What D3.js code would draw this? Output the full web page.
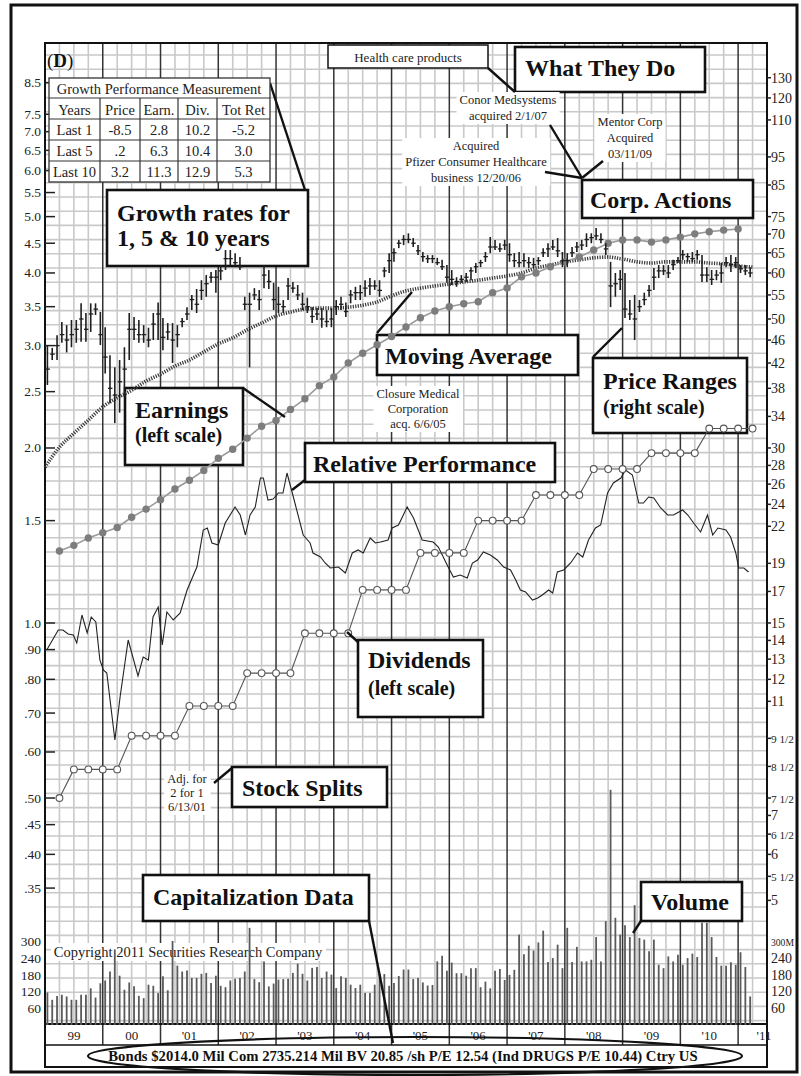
<!DOCTYPE html>
<html>
<head>
<meta charset="utf-8">
<script src="https://cdn.jsdelivr.net/npm/d3@7"></script>
<style>
    body { margin: 0; background: #fff; }
    svg { display: block; font-family: "Liberation Serif", "Times New Roman", serif; }
</style>
</head>
<body>
<div id="container"></div>
<script>
// monthly price ranges Jan 1999 .. Mar 2011 (right scale, $)
const priceHigh = [
    45.1, 44.6, 46.9, 49.4, 48.8, 49.8, 49.8, 53.2, 51.2, 53.2, 53.2, 51.4,
    48.4, 43.3, 41.3, 42.5, 44.7, 51.2, 50.4, 49.8, 48.8, 48.3, 51.2, 53.4,
    50.2, 49.2, 49.2, 48.8, 50.2, 52.4, 55.0, 56.3, 58.3, 59.5, 60.2, 60.7,
    61.9, 65.7, 65.7, 64.9, 63.9, 54.6, 55.5, 56.5, 56.1, 61.9, 60.7, 57.7,
    56.8, 53.9, 58.8, 57.9, 57.2, 55.5, 54.4, 52.4, 52.2, 52.2, 51.8, 52.2,
    53.9, 54.6, 53.4, 56.1, 56.8, 57.2, 58.3, 58.8, 58.3, 58.3, 61.4, 64.9,
    66.2, 68.4, 69.7, 70.2, 68.9, 67.0, 65.2, 64.4, 64.4, 63.7, 63.2, 61.9,
    60.7, 59.0, 59.5, 60.0, 61.4, 62.4, 63.2, 65.2, 69.2, 68.4, 67.5, 68.4,
    67.5, 64.9, 65.2, 64.9, 63.9, 63.7, 63.9, 66.2, 67.5, 68.4, 68.9, 65.2,
    64.9, 66.5, 67.8, 68.4, 70.2, 70.2, 71.7, 70.2, 67.5, 62.7, 60.0, 60.7,
    60.0, 53.9, 55.0, 53.9, 55.5, 57.2, 61.2, 61.9, 61.9, 61.9, 63.2, 63.9,
    65.7, 64.9, 65.2, 65.7, 64.4, 61.4, 60.7, 60.7, 62.4, 63.9, 64.4, 63.9,
    61.9, 61.9, 61.4
]
const priceLow = [
    38.5, 42.5, 42.5, 45.5, 43.8, 44.7, 45.5, 45.7, 45.7, 47.5, 50.8, 45.1,
    40.3, 35.8, 33.1, 34.5, 36.7, 42.5, 46.0, 45.5, 45.5, 44.7, 46.0, 46.0,
    44.2, 46.0, 42.0, 44.7, 48.4, 49.8, 51.8, 51.2, 53.9, 54.6, 57.7, 55.5,
    58.3, 60.7, 61.9, 61.4, 60.7, 51.8, 41.3, 53.9, 51.8, 56.5, 56.3, 51.8,
    51.2, 51.2, 53.9, 55.5, 53.9, 51.8, 51.2, 49.2, 49.8, 48.3, 48.4, 48.4,
    50.8, 51.8, 50.4, 53.2, 53.9, 53.9, 54.6, 55.0, 56.1, 54.6, 59.0, 60.0,
    62.7, 66.2, 67.0, 67.5, 66.5, 64.4, 62.7, 62.4, 62.4, 61.9, 60.7, 57.7,
    57.2, 56.8, 57.7, 57.9, 58.3, 60.0, 61.4, 62.7, 64.9, 65.7, 65.2, 65.7,
    62.7, 61.4, 61.4, 61.4, 61.2, 61.2, 61.9, 63.9, 63.9, 65.7, 63.9, 61.4,
    61.4, 63.9, 65.2, 65.7, 66.5, 67.5, 68.4, 67.5, 64.4, 52.4, 54.6, 56.1,
    50.2, 49.8, 46.0, 51.4, 52.8, 54.6, 56.1, 58.8, 59.5, 58.8, 60.7, 62.4,
    63.2, 62.7, 62.7, 63.2, 57.9, 57.9, 57.2, 58.3, 57.7, 61.4, 60.2, 61.2,
    60.0, 59.5, 59.0
]
const priceClose = [
    41, 43.5, 45, 47, 46, 47, 48, 50, 48, 51, 52, 47,
    43, 38, 37, 39, 41, 48, 48, 47, 47, 46, 49, 51,
    46.5, 47.5, 46, 47, 49.5, 51, 54, 53, 56, 57.5, 59, 59,
    60.5, 63.5, 63.5, 62.5, 61.5, 53, 53, 55, 54, 59.5, 58, 54,
    53, 52.5, 57, 56.5, 55, 53, 52.5, 50.5, 51, 50, 49.5, 50,
    52.5, 53, 51.5, 55, 55.5, 55.5, 56.5, 57, 57, 56, 60.5, 63,
    65, 67.5, 68.5, 68.5, 67.5, 65.5, 64, 63.5, 63.5, 62.5, 61.5, 59,
    58.5, 58, 58.5, 59, 60.5, 61.5, 62.5, 64, 66.5, 66.5, 66, 67,
    64.5, 63, 62.5, 63, 62.5, 62, 63, 65, 66, 66.5, 65.5, 63,
    63, 65, 66.5, 67, 68.5, 69, 69.5, 68.5, 66, 57, 57.5, 58.5,
    52, 51, 50, 52.5, 54, 56, 59, 60.5, 60.5, 60, 62, 63,
    64.5, 64, 63.5, 64.5, 59.5, 59.5, 58.5, 59.5, 60, 62.5, 62, 62.5,
    61, 60.5, 60
]
// monthly volume, millions of shares
const volume = [
    116, 90, 104, 108, 102, 90, 90, 108, 108, 131, 98, 149,
    159, 191, 270, 176, 126, 152, 138, 104, 96, 144, 140, 114,
    174, 124, 300, 212, 191, 195, 168, 168, 183, 186, 150, 176,
    140, 135, 159, 165, 168, 191, 347, 164, 153, 227, 138, 148,
    162, 164, 165, 186, 219, 183, 159, 204, 207, 168, 191, 180,
    132, 174, 168, 144, 132, 144, 114, 114, 144, 183, 182, 140,
    150, 175, 198, 198, 164, 168, 152, 141, 143, 227, 247, 194,
    223, 185, 185, 176, 203, 203, 135, 155, 131, 194, 200, 161,
    179, 197, 323, 253, 283, 266, 295, 337, 225, 239, 287, 203,
    347, 225, 279, 227, 227, 233, 314, 227, 371, 840, 383, 323,
    356, 314, 428, 311, 305, 263, 305, 215, 203, 245, 227, 251,
    215, 239, 255, 243, 365, 365, 314, 243, 212, 212, 224, 215,
    260, 207, 102
]
// quarterly from 1999 Q2 (left scale)
const earnings = [
    1.33, 1.36, 1.40, 1.43, 1.46, 1.52, 1.57, 1.63,
    1.70, 1.76, 1.83, 1.92, 1.99, 2.08, 2.18, 2.23,
    2.33, 2.43, 2.56, 2.65, 2.80, 2.91, 3.01, 3.11,
    3.23, 3.35, 3.44, 3.50, 3.54, 3.57, 3.70, 3.77,
    3.94, 4.00, 4.10, 4.18, 4.26, 4.38, 4.50, 4.56,
    4.56, 4.52, 4.56, 4.61, 4.67, 4.71, 4.74, 4.76
]
const dividends = [
    0.50,
    0.56, 0.56, 0.56, 0.56, 0.64, 0.64, 0.64, 0.64,
    0.72, 0.72, 0.72, 0.72, 0.82, 0.82, 0.82, 0.82,
    0.96, 0.96, 0.96, 0.96, 1.14, 1.14, 1.14, 1.14,
    1.32, 1.32, 1.32, 1.32, 1.50, 1.50, 1.50, 1.50,
    1.66, 1.66, 1.66, 1.66, 1.84, 1.84, 1.84, 1.84,
    1.96, 1.96, 1.96, 1.96, 2.16, 2.16, 2.16, 2.16
]
// quarterly from Jan 1999 (right scale, $)
const movingAvg = [
    27.8, 30.1, 31.8, 33.5, 35.3, 36.6, 37.7, 39.1, 40.2, 41.5,
    42.5, 43.9, 45.3, 46.4, 47.9, 49.2, 50.6, 51.4, 52.0, 52.2,
    52.2, 52.4, 52.8, 53.5, 54.8, 55.9, 56.5, 57.0, 57.4, 57.9,
    58.3, 58.8, 59.3, 60.0, 61.2, 61.9, 62.7, 63.2, 63.7, 63.9,
    63.4, 62.7, 62.4, 62.7, 62.7, 62.7, 62.4, 62.2, 61.7, 61.4
]
// relative performance index
const relDates = [
    1999.03, 1999.23, 1999.31, 1999.40, 1999.49, 1999.55, 1999.64, 1999.73, 1999.80, 1999.88,
    1999.95, 2000.01, 2000.07, 2000.21, 2000.30, 2000.44, 2000.61, 2000.70, 2000.79, 2000.87,
    2000.96, 2001.03, 2001.11, 2001.22, 2001.34, 2001.46, 2001.63, 2001.74, 2001.81, 2001.89,
    2002.00, 2002.12, 2002.29, 2002.38, 2002.47, 2002.55, 2002.64, 2002.73, 2002.78, 2002.86,
    2002.95, 2003.04, 2003.12, 2003.19, 2003.30, 2003.47, 2003.59, 2003.64, 2003.77, 2003.85,
    2003.94, 2004.08, 2004.20, 2004.32, 2004.42, 2004.51, 2004.63, 2004.72, 2004.81, 2004.94,
    2005.01, 2005.12, 2005.27, 2005.38, 2005.53, 2005.72, 2005.81, 2005.98, 2006.07, 2006.19,
    2006.31, 2006.40, 2006.49, 2006.59, 2006.71, 2006.83, 2006.94, 2007.06, 2007.15, 2007.23,
    2007.32, 2007.44, 2007.53, 2007.61, 2007.72, 2007.79, 2007.87, 2007.98, 2008.10, 2008.22,
    2008.31, 2008.41, 2008.53, 2008.62, 2008.74, 2008.84, 2008.97, 2009.05, 2009.17, 2009.28,
    2009.36, 2009.45, 2009.54, 2009.66, 2009.78, 2009.88, 2010.04, 2010.13, 2010.23, 2010.35,
    2010.47, 2010.56, 2010.65, 2010.79, 2010.87, 2010.96, 2011.01, 2011.10, 2011.18
]
const relValues = [
    150, 170, 170, 166, 165, 157, 185, 167, 183, 178,
    140, 130, 127, 60, 103, 160, 124, 143, 140, 183,
    193, 155, 188, 180, 187, 210, 233, 270, 272, 257,
    255, 277, 293, 285, 265, 285, 293, 322, 322, 300,
    301, 307, 307, 327, 303, 265, 257, 247, 243, 237,
    232, 233, 227, 247, 250, 247, 262, 257, 258, 260,
    272, 275, 293, 282, 260, 258, 253, 233, 223, 225,
    222, 237, 240, 248, 245, 240, 233, 230, 220, 210,
    208, 200, 202, 205, 210, 207, 228, 230, 237, 247,
    243, 260, 272, 275, 307, 317, 322, 330, 325, 297,
    297, 303, 302, 292, 285, 285, 290, 285, 277, 268,
    285, 265, 272, 270, 263, 247, 232, 232, 228
]

const yearLabels = ["99", "00", "'01", "'02", "'03", "'04", "'05", "'06", "'07", "'08", "'09", "'10", "'11"]
const leftTicks = [8.5, 7.5, 7, 6.5, 6, 5.5, 5, 4.5, 4, 3.5, 3, 2.5, 2, 1.5, 1, 0.9, 0.8, 0.7, 0.6, 0.5, 0.45, 0.4, 0.35]
const leftTickLabels = ["8.5", "7.5", "7.0", "6.5", "6.0", "5.5", "5.0", "4.5", "4.0", "3.5", "3.0", "2.5", "2.0", "1.5",
    "1.0", ".90", ".80", ".70", ".60", ".50", ".45", ".40", ".35"]
const rightTicks = [130, 120, 110, 95, 85, 75, 70, 65, 60, 55, 50, 46, 42, 38, 34, 30, 28, 26, 24, 22, 19, 17, 15,
    14, 13, 12, 11, 9.5, 8.5, 7.5, 7, 6.5, 6, 5.5, 5]
const rightTickLabels = ["130", "120", "110", "95", "85", "75", "70", "65", "60", "55", "50", "46", "42", "38", "34",
    "30", "28", "26", "24", "22", "19", "17", "15", "14", "13", "12", "11", "9 1/2", "8 1/2", "7 1/2", "7", "6 1/2",
    "6", "5 1/2", "5"]
const volTicks = [60, 120, 180, 240, 300]
const volLeftLabels = ["60", "120", "180", "240", "300"]
const volRightLabels = ["60", "120", "180", "240", "300M"]

const growthHeader = ["Years", "Price", "Earn.", "Div.", "Tot Ret"]
const growthYears = ["Last 1", "Last 5", "Last 10"]
const growthPrice = ["-8.5", ".2", "3.2"]
const growthEarn = ["2.8", "6.3", "11.3"]
const growthDiv = ["10.2", "10.4", "12.9"]
const growthTotRet = ["-5.2", "3.0", "5.3"]

const capText = "Bonds  $2014.0 Mil Com 2735.214 Mil BV 20.85 /sh  P/E 12.54 (Ind DRUGS P/E 10.44) Ctry US"

const w = 801
const h = 1076
const pLeft = 45, pRight = 767, pTop = 43, pBottom = 1024

const svg = d3.select("#container")
    .append("svg")
    .attr("width", w)
    .attr("height", h)
    .style("background-color", "white")

const x = d3.scaleLinear()
    .domain([1999, 2011.5])
    .range([pLeft, pRight])
// one log grid: left scale (earnings/dividends), right scale = left x 15 (price)
const pxPerLn = 252.5
const yOne = 623
const yL = d3.scaleLog()
    .domain([Math.exp((yOne - pBottom) / pxPerLn), Math.exp((yOne - pTop) / pxPerLn)])
    .range([pBottom, pTop])
const yR = yL.copy().domain(yL.domain().map((v) => v * 15))
const yV = d3.scaleLinear().domain([0, 300]).range([1025, 941])
const yRel = d3.scaleLinear().domain([0, 400]).range([800, 400])

const monthX = (i) => x(1999 + (i + 0.5) / 12)

// grid
const grid = svg.append("g")
d3.range(-41, 30).map((k) => yL(1) + k * 14.2)
    .filter((gy) => gy > pTop + 1 && gy < pBottom - 1)
    .forEach((gy) => {
        grid.append("line")
            .attr("x1", pLeft).attr("x2", pRight)
            .attr("y1", gy).attr("y2", gy)
            .attr("stroke", "#c9c9c9").attr("stroke-width", 1.6)
    })
d3.range(1999.25, 2011.5, 0.25)
    .filter((t) => Math.abs(t - Math.round(t)) > 0.01)
    .forEach((t) => {
        grid.append("line")
            .attr("x1", x(t)).attr("x2", x(t))
            .attr("y1", pTop).attr("y2", pBottom)
            .attr("stroke", "#c9c9c9").attr("stroke-width", 1.6)
    })
d3.range(2000, 2012).forEach((t) => {
    grid.append("line")
        .attr("x1", x(t)).attr("x2", x(t))
        .attr("y1", pTop).attr("y2", 1045)
        .attr("stroke", "#333").attr("stroke-width", 1.5)
})

// frame lines of the plot
const frame = svg.append("g").attr("stroke", "#111").attr("fill", "none")
frame.append("rect").attr("x", pLeft).attr("y", pTop).attr("width", pRight - pLeft).attr("height", 1067 - pTop)
    .attr("stroke-width", 2)
frame.append("line").attr("x1", pLeft).attr("x2", pRight).attr("y1", pBottom).attr("y2", pBottom).attr("stroke-width", 2)
frame.append("line").attr("x1", pLeft).attr("x2", pRight).attr("y1", 1045).attr("y2", 1045).attr("stroke-width", 1.5)

// axis labels
const axes = svg.append("g").style("font-size", "13.5px").attr("fill", "#222")
function fitRight(t) {
    // shrink labels that would run into the outer frame
    const len = t.node().getComputedTextLength()
    if (len > 23) t.style("font-size", (14 * 23 / len).toFixed(1) + "px")
}
leftTicks.forEach((v, i) => {
    axes.append("line").attr("x1", pLeft).attr("x2", pLeft + 10).attr("y1", yL(v)).attr("y2", yL(v))
        .attr("stroke", "#222").attr("stroke-width", 1.5)
    axes.append("text").attr("x", 41).attr("y", yL(v) + 4.5).attr("text-anchor", "end").text(leftTickLabels[i])
})
rightTicks.forEach((v, i) => {
    axes.append("line").attr("x1", pRight).attr("x2", pRight + 4).attr("y1", yR(v)).attr("y2", yR(v))
        .attr("stroke", "#222").attr("stroke-width", 1.5)
    fitRight(axes.append("text").attr("x", 771).attr("y", yR(v) + 5).style("font-size", "14px").text(rightTickLabels[i]))
})
volTicks.forEach((v, i) => {
    axes.append("text").attr("x", 41).attr("y", yV(v) + 5).attr("text-anchor", "end").text(volLeftLabels[i])
    fitRight(axes.append("text").attr("x", 771).attr("y", yV(v) + 5).style("font-size", "14px").text(volRightLabels[i]))
})
yearLabels.forEach((lab, i) => {
    axes.append("text")
        .attr("x", x(1999 + i + 0.5) + (i === 12 ? -3 : 0))
        .attr("y", 1040)
        .attr("text-anchor", "middle")
        .style("font-size", "13px")
        .text(lab)
})

// annotation boxes (white, drawn under the data)
const boxes = svg.append("g")
function box(bx, by, bw, bh, sw = 2.6) {
    return boxes.append("rect")
        .attr("x", bx).attr("y", by).attr("width", bw).attr("height", bh)
        .attr("fill", "white").attr("stroke", "#111").attr("stroke-width", sw)
}
box(107, 190, 201, 76)
box(515, 47, 190, 45)
box(582, 180, 171, 38)
box(377, 335, 201, 40)
box(593, 358, 154, 75)
box(125, 388, 118, 77)
box(305, 443, 250, 39)
box(358, 640, 125, 77)
box(232, 767, 155, 40)
box(143, 875, 226, 46)
box(641, 882, 101, 39)
box(328, 45, 160, 23, 1.5)

// white backed small notes
const notes = svg.append("g").style("font-size", "12.5px").attr("fill", "#222")
function note(cx, baseline, lines, step, size) {
    const g = notes.append("g")
    if (size) g.style("font-size", size + "px")
    lines.forEach((s, i) => g.append("text")
        .attr("x", cx).attr("y", baseline + i * step)
        .attr("text-anchor", "middle").text(s))
    const bb = g.node().getBBox()
    g.insert("rect", "text")
        .attr("x", bb.x - 3).attr("y", bb.y - 1).attr("width", bb.width + 6).attr("height", bb.height + 2)
        .attr("fill", "white")
}
note(508, 104, ["Conor Medsystems", "acquired 2/1/07"], 16)
note(630, 126, ["Mentor Corp", "Acquired", "03/11/09"], 16)
note(476, 150, ["Acquired", "Pfizer Consumer Healthcare", "business 12/20/06"], 16)
note(418, 398, ["Closure Medical", "Corporation", "acq. 6/6/05"], 15)
note(187, 783, ["Adj. for", "2 for 1", "6/13/01"], 14)
note(188, 957, ["Copyright 2011 Securities Research Company"], 14, 14.5)
svg.append("text").attr("x", 408).attr("y", 62).attr("text-anchor", "middle")
    .style("font-size", "13px").attr("fill", "#222").text("Health care products")

// volume
svg.append("g")
    .selectAll("line")
    .data(volume)
    .enter()
    .append("line")
    .attr("x1", (d, i) => monthX(i)).attr("x2", (d, i) => monthX(i))
    .attr("y1", yV(0)).attr("y2", (d) => yV(d))
    .attr("stroke", "#5a5a5a").attr("stroke-width", 1.8)

// moving average
const maLine = d3.line()
    .x((d, i) => x(1999 + i * 0.25))
    .y((d) => yR(d))
    .curve(d3.curveMonotoneX)
svg.append("path").datum(movingAvg).attr("d", maLine)
    .attr("fill", "none").attr("stroke", "#3a3a3a").attr("stroke-width", 3.6)
    .attr("stroke-dasharray", "1.2,1.3")

// relative performance
svg.append("path").datum(relValues)
    .attr("d", d3.line().x((d, i) => x(relDates[i])).y((d) => yRel(d)))
    .attr("fill", "none").attr("stroke", "#222").attr("stroke-width", 1.1)

// dividends
const divX = (i) => x(1999.25 + i * 0.25)
svg.append("path").datum(dividends)
    .attr("d", d3.line().x((d, i) => divX(i)).y((d) => yL(d)))
    .attr("fill", "none").attr("stroke", "#555").attr("stroke-width", 1.1)
svg.append("g").selectAll("circle").data(dividends).enter().append("circle")
    .attr("cx", (d, i) => divX(i)).attr("cy", (d) => yL(d)).attr("r", 3.4)
    .attr("fill", "white").attr("stroke", "#555").attr("stroke-width", 1.1)

// earnings
const earnX = (i) => x(1999.25 + i * 0.25)
svg.append("path").datum(earnings)
    .attr("d", d3.line().x((d, i) => earnX(i)).y((d) => yL(d)))
    .attr("fill", "none").attr("stroke", "#9a9a9a").attr("stroke-width", 1.6)
svg.append("g").selectAll("circle").data(earnings).enter().append("circle")
    .attr("cx", (d, i) => earnX(i)).attr("cy", (d) => yL(d)).attr("r", 3.7)
    .attr("fill", "#7d7d7d")

// price ranges
const bars = svg.append("g").attr("stroke", "#1e1e1e")
priceHigh.forEach((hi, i) => {
    const bx = monthX(i)
    bars.append("line").attr("x1", bx).attr("x2", bx)
        .attr("y1", yR(hi)).attr("y2", yR(priceLow[i])).attr("stroke-width", 1.6)
    bars.append("line").attr("x1", bx - 2).attr("x2", bx + 2.5)
        .attr("y1", yR(priceClose[i])).attr("y2", yR(priceClose[i])).attr("stroke-width", 1.3)
})

// callout texts and pointers
const big = svg.append("g").style("font-weight", "bold").attr("fill", "#111")
function label(tx, ty, s, size = 24) {
    big.append("text").attr("x", tx).attr("y", ty).style("font-size", size + "px").text(s)
}
label(117, 221, "Growth rates for")
label(117, 246, "1, 5 & 10 years")
label(525, 76, "What They Do")
label(590, 208, "Corp. Actions")
label(385, 364, "Moving Average")
label(603, 389, "Price Ranges")
label(603, 414, "(right scale)", 20)
label(135, 418, "Earnings")
label(135, 442, "(left scale)", 20)
label(313, 472, "Relative Performance")
label(368, 668, "Dividends")
label(368, 695, "(left scale)", 20)
label(242, 796, "Stock Splits")
label(153, 905, "Capitalization Data")
label(651, 910, "Volume")

const pointers = [
    [270, 83, 305, 190], [488, 68, 515, 92], [550, 125, 582, 178], [603, 161, 582, 178],
    [545, 172, 582, 178], [377, 333, 412, 292], [593, 357, 622, 328], [243, 388, 285, 417],
    [305, 480, 292, 490], [358, 642, 347, 632], [232, 768, 214, 783], [369, 921, 393, 1043],
    [641, 921, 633, 933]
]
svg.append("g").selectAll("line").data(pointers).enter().append("line")
    .attr("x1", (d) => d[0]).attr("y1", (d) => d[1]).attr("x2", (d) => d[2]).attr("y2", (d) => d[3])
    .attr("stroke", "#111").attr("stroke-width", 2.4)

// growth table
const table = svg.append("g").style("font-size", "14.5px").attr("fill", "#222")
const colX = [49, 100, 140, 178, 217, 270]
const rowY = [78, 98, 119, 140, 161, 182]
table.append("rect").attr("x", 49).attr("y", 78).attr("width", 221).attr("height", 104)
    .attr("fill", "white").attr("stroke", "#333").attr("stroke-width", 1.3)
rowY.slice(1, 5).forEach((ry) => {
    table.append("line").attr("x1", 49).attr("x2", 270).attr("y1", ry).attr("y2", ry)
        .attr("stroke", "#333").attr("stroke-width", 1.2)
})
colX.slice(1, 5).forEach((cx) => {
    table.append("line").attr("x1", cx).attr("x2", cx).attr("y1", 98).attr("y2", 182)
        .attr("stroke", "#333").attr("stroke-width", 1.2)
})
table.append("text").attr("x", 159).attr("y", 93.5).attr("text-anchor", "middle").text("Growth Performance Measurement")
const cols = [growthYears, growthPrice, growthEarn, growthDiv, growthTotRet]
growthHeader.forEach((hd, c) => {
    const cx = (colX[c] + colX[c + 1]) / 2
    table.append("text").attr("x", cx).attr("y", 114.5).attr("text-anchor", "middle").text(hd)
    cols[c].forEach((v, r) => {
        table.append("text").attr("x", cx).attr("y", rowY[r + 2] + 16).attr("text-anchor", "middle").text(v)
    })
})

// corner mark
const mark = svg.append("text").attr("x", 47).attr("y", 67).style("font-size", "19px").attr("fill", "#111")
mark.append("tspan").text("(")
mark.append("tspan").style("font-weight", "bold").text("D")
mark.append("tspan").text(")")

// capitalization line
svg.append("text")
    .attr("x", 403).attr("y", 1061)
    .attr("text-anchor", "middle")
    .style("font-size", "14.7px").style("font-weight", "bold").attr("fill", "#111")
    .text(capText)
svg.append("ellipse")
    .attr("cx", 415).attr("cy", 1056).attr("rx", 327).attr("ry", 19)
    .attr("fill", "none").attr("stroke", "#111").attr("stroke-width", 2.2)

// outer frame
svg.append("rect").attr("x", 798).attr("y", 0).attr("width", 3).attr("height", h).attr("fill", "white")
svg.append("rect").attr("x", 11).attr("y", 5).attr("width", 786).attr("height", 1067)
    .attr("fill", "none").attr("stroke", "#111").attr("stroke-width", 3)
</script>
</body>
</html>
